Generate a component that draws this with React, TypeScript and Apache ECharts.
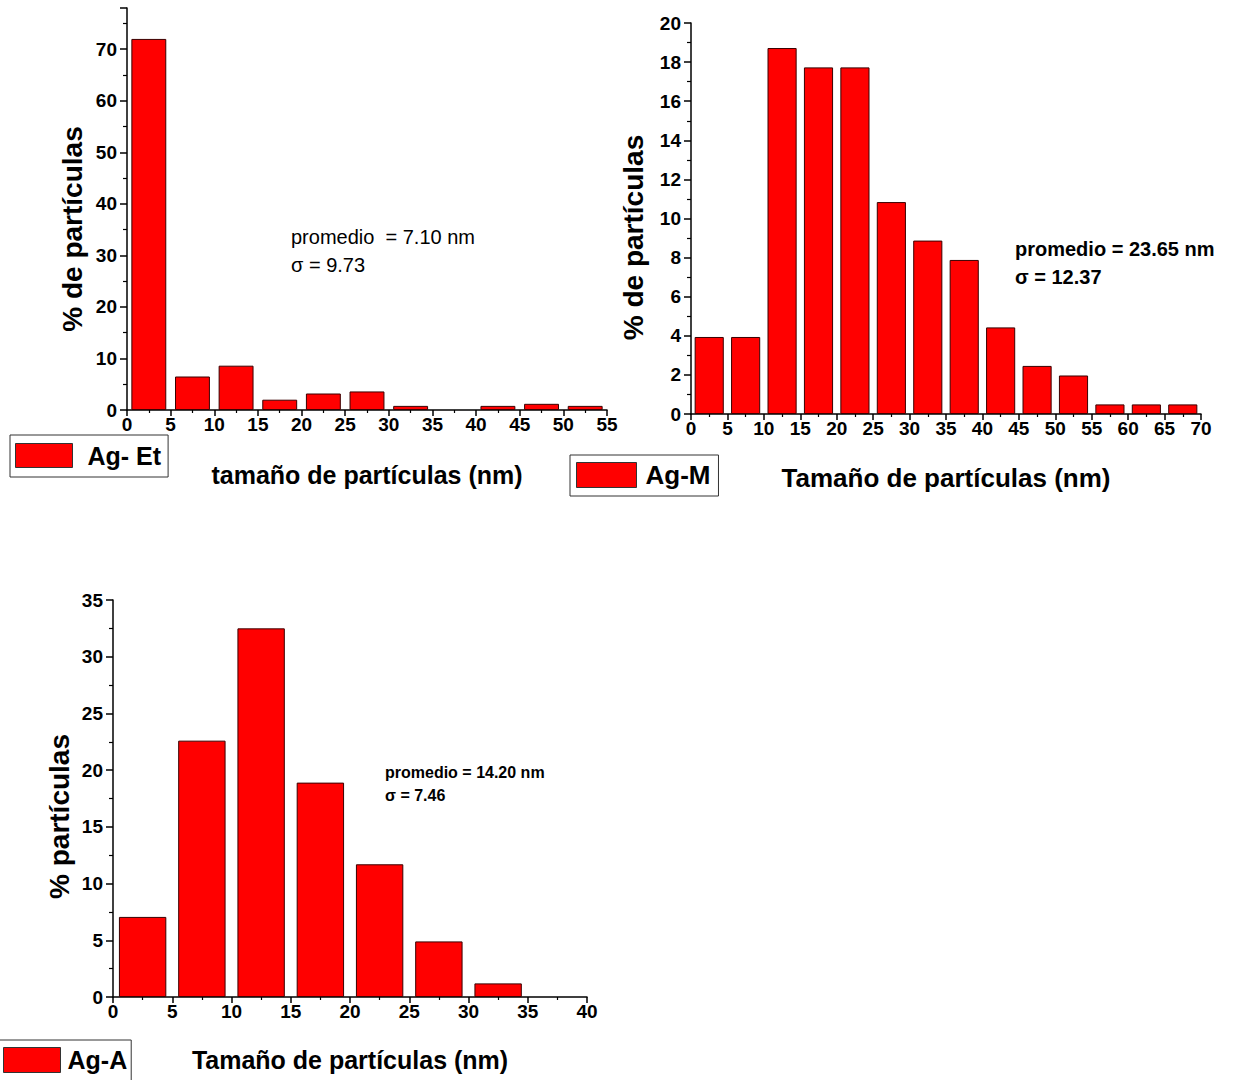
import React, { useEffect, useRef } from 'react';
import * as echarts from 'echarts';

const FONT = '"Liberation Sans", Arial, Helvetica, sans-serif';

// bin width (nm) and lower edges of the bins
const BIN = 5;
const etBins = [0, 5, 10, 15, 20, 25, 30, 35, 40, 45, 50];
const etValues = [72.0, 6.5, 8.6, 2.0, 3.2, 3.6, 0.8, 0, 0.8, 1.2, 0.8];
const mBins = [0, 5, 10, 15, 20, 25, 30, 35, 40, 45, 50, 55, 60, 65];
const mValues = [3.94, 3.94, 18.72, 17.73, 17.73, 10.84, 8.87, 7.88, 4.43, 2.46, 1.97, 0.49, 0.49, 0.49];
const aBins = [0, 5, 10, 15, 20, 25, 30, 35];
const aValues = [7.06, 22.6, 32.5, 18.9, 11.7, 4.9, 1.2, 0];

// axis ranges
const etXMax = 55;
const etYMax = 78;
const etYInterval = 10;
const mXMax = 70;
const mYMax = 20;
const mYInterval = 2;
const aXMax = 40;
const aYMax = 35;
const aYInterval = 5;

// texts
const seriesNames = ['Ag- Et', 'Ag-M', 'Ag-A'];
const xNames = ['tamaño de partículas (nm)', 'Tamaño de partículas (nm)', 'Tamaño de partículas (nm)'];
const yNames = ['% de partículas', '% de partículas', '% partículas'];
const etStats = ['promedio  = 7.10 nm', 'σ = 9.73'];
const mStats = ['promedio = 23.65 nm', 'σ = 12.37'];
const aStats = ['promedio = 14.20 nm', 'σ = 7.46'];

// empty bins are not drawn (no bar at all)
const toPairs = (bins: number[], vals: number[]) =>
  bins.map((b, i) => [b + BIN / 2, vals[i] === 0 ? '-' : vals[i]]);

const black = '#000';

function xAxis(gridIndex: number, max: number, name: string, nameSize: number, labelSize: number, nameGap: number) {
  return {
    type: 'value',
    gridIndex,
    min: 0,
    max,
    interval: 5,
    axisLine: { show: true, onZero: false, lineStyle: { color: black, width: 1.5 } },
    axisTick: { show: true, inside: false, length: 6, lineStyle: { color: black, width: 1.5 } },
    minorTick: { show: true, splitNumber: 2, length: 3, lineStyle: { color: black, width: 1.2 } },
    splitLine: { show: false },
    minorSplitLine: { show: false },
    axisLabel: { color: black, fontFamily: FONT, fontWeight: 'bold', fontSize: labelSize, margin: 5 },
    name,
    nameLocation: 'middle',
    nameGap,
    nameMoveOverlap: false,
    nameTextStyle: { color: black, fontFamily: FONT, fontWeight: 'bold', fontSize: nameSize },
  };
}

function yAxis(gridIndex: number, max: number, interval: number, name: string, nameGap: number, shift: number, showMax: boolean, labelSize: number) {
  return {
    type: 'value',
    gridIndex,
    min: 0,
    max,
    interval,
    axisLine: { show: true, onZero: false, lineStyle: { color: black, width: 1.5 } },
    axisTick: { show: true, inside: false, length: 7, lineStyle: { color: black, width: 1.5 } },
    minorTick: { show: true, splitNumber: 2, length: 4, lineStyle: { color: black, width: 1.2 } },
    splitLine: { show: false },
    minorSplitLine: { show: false },
    axisLabel: { color: black, fontFamily: FONT, fontWeight: 'bold', fontSize: labelSize, margin: 10, showMaxLabel: showMax },
    name,
    nameLocation: 'middle',
    nameGap,
    nameMoveOverlap: false,
    nameTextStyle: {
      color: black,
      fontFamily: FONT,
      fontWeight: 'bold',
      fontSize: 28,
      padding: [0, shift * 2, 0, 0],
    },
  };
}

function barSeries(name: string, idx: number, bins: number[], vals: number[]) {
  return {
    type: 'bar',
    name,
    xAxisIndex: idx,
    yAxisIndex: idx,
    barWidth: '80%',
    data: toPairs(bins, vals),
    itemStyle: { color: '#ff0000', borderColor: '#3a0000', borderWidth: 1 },
    emphasis: { disabled: true },
  };
}

function legend(name: string, left: number, top: number, padding: number[], iw: number, ih: number, fontSize: number, gap: number) {
  return {
    show: true,
    data: [name],
    left,
    top,
    padding,
    orient: 'horizontal',
    borderColor: '#333',
    borderWidth: 1,
    backgroundColor: '#fff',
    itemWidth: iw,
    itemHeight: ih,
    icon: 'rect',
    selectedMode: false,
    itemStyle: { color: '#ff0000', borderColor: '#333', borderWidth: 1 },
    textStyle: { color: black, fontFamily: FONT, fontWeight: 'bold', fontSize, padding: [0, 0, 0, gap] },
  };
}

function statText(x: number, y: number, text: string, size: number, bold: boolean) {
  return {
    type: 'text',
    x,
    y,
    style: {
      text,
      fill: black,
      fontFamily: FONT,
      fontSize: size,
      fontWeight: bold ? 'bold' : 'normal',
      align: 'left',
      verticalAlign: 'middle',
    },
  };
}

export default function App() {
  const ref = useRef<HTMLDivElement>(null);
  useEffect(() => {
    document.body.style.margin = '0';
    if (!ref.current) return;
    const chart = echarts.init(ref.current, null, { renderer: 'svg' });
    const option: any = {
      animation: false,
      backgroundColor: '#fff',
      grid: [
        { left: 127, top: 8, width: 480, height: 402, outerBoundsMode: 'none', containLabel: false },
        { left: 691, top: 23, width: 510, height: 391, outerBoundsMode: 'none', containLabel: false },
        { left: 113, top: 600, width: 474, height: 397, outerBoundsMode: 'none', containLabel: false },
      ],
      xAxis: [
        xAxis(0, etXMax, xNames[0], 25, 19, 52),
        xAxis(1, mXMax, xNames[1], 26, 19, 51),
        xAxis(2, aXMax, xNames[2], 25, 19, 50),
      ],
      yAxis: [
        yAxis(0, etYMax, etYInterval, yNames[0], 41, 20, false, 19),
        yAxis(1, mYMax, mYInterval, yNames[1], 44, 19, true, 19),
        yAxis(2, aYMax, aYInterval, yNames[2], 40, 18, true, 19),
      ],
      legend: [
        legend(seriesNames[0], 10, 435, [8, 7, 9, 5], 57, 24, 25, 10),
        legend(seriesNames[1], 570, 455, [7, 8, 8, 6], 60, 25, 26, 4),
        legend(seriesNames[2], -2, 1040, [7, 4, 12, 5], 57, 25, 25, 2),
      ],
      series: [
        barSeries(seriesNames[0], 0, etBins, etValues),
        barSeries(seriesNames[1], 1, mBins, mValues),
        barSeries(seriesNames[2], 2, aBins, aValues),
      ],
      graphic: [
        statText(291, 237, etStats[0], 20, false),
        statText(291, 265, etStats[1], 20, false),
        statText(1015, 249, mStats[0], 20, true),
        statText(1015, 277, mStats[1], 20, true),
        statText(385, 772, aStats[0], 16, true),
        statText(385, 795, aStats[1], 16, true),
      ],
    };
    chart.setOption(option);
    return () => chart.dispose();
  }, []);
  return <div ref={ref} style={{ width: 1233, height: 1080 }} />;
}
